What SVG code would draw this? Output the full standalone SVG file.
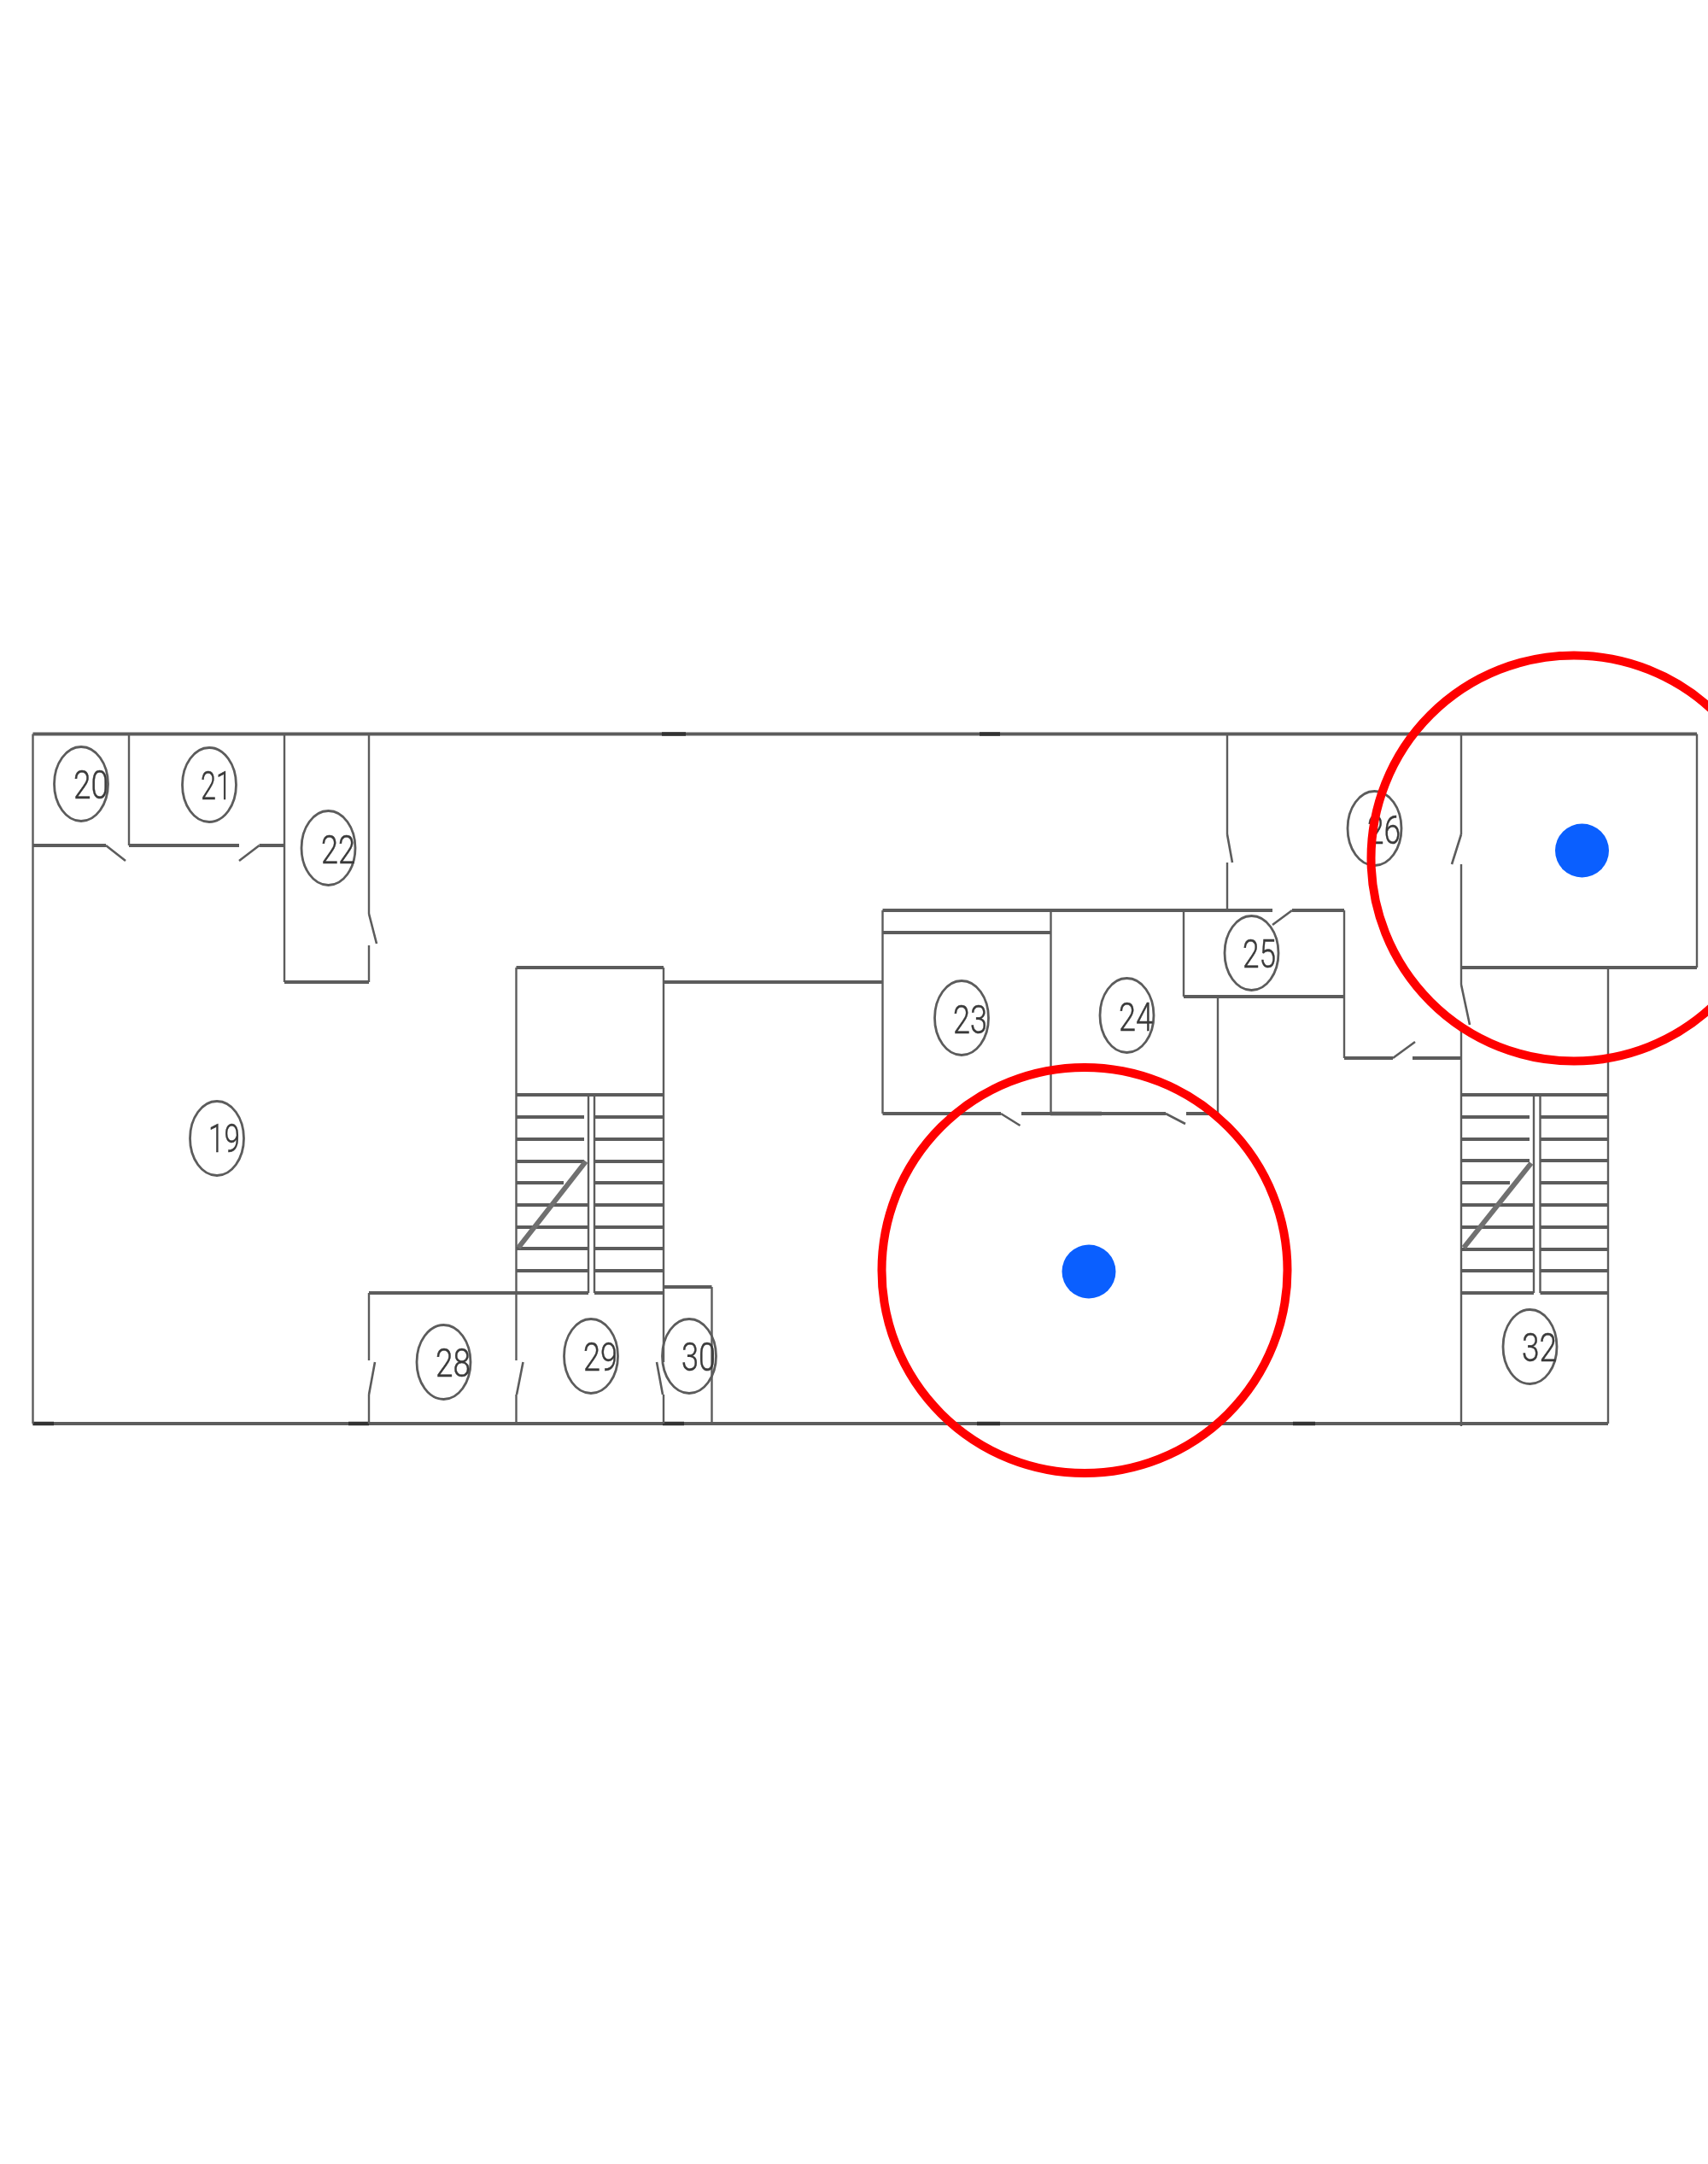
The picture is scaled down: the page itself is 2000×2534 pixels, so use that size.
<svg xmlns="http://www.w3.org/2000/svg" width="2000" height="2534" viewBox="0 0 2000 2534">
<style>
.h{stroke:#5c5c5c;stroke-width:4;fill:none}
.v{stroke:#5c5c5c;stroke-width:2.4;fill:none}
.d{stroke:#5c5c5c;stroke-width:2.6;fill:none}
.k{stroke:#333;stroke-width:4.4;fill:none}
.s{stroke:#707070;stroke-width:6;fill:none}
.c{stroke:#5c5c5c;stroke-width:2.8;fill:none}
.t{font-family:Roboto,"Liberation Sans",sans-serif;font-weight:300;font-size:47px;fill:#3a3a3a;stroke:#3a3a3a;stroke-width:.5}
.r{stroke:#ff0000;stroke-width:10;fill:none}
.b{fill:#0a5fff}
</style>
<defs><filter id="soft" filterUnits="userSpaceOnUse" x="0" y="700" width="2000" height="1100"><feGaussianBlur stdDeviation="0.55"/></filter></defs>
<rect width="2000" height="2534" fill="#fff"/>
<g id="plan" filter="url(#soft)">
<g id="connectors">
<path class="h" d="M38.5 859.5H1987M38.5 1667H1883"/>
<path class="k" d="M775 859.5H803M1147 859.5H1171M38.5 1667H63M408 1667H432M776 1667H801M1144 1667H1171M1514 1667H1540M1230 1304H1290"/>
<path class="v" d="M38.5 859.5V1667M151 859.5V990M333 859.5V1150M432 859.5V1070M432 1107V1150M1987 859.5V1133M1437 859.5V977M1437 1010V1066M1711 859.5V977M1711 1012V1153M1711 1198V1670M1883 1133V1667M604.5 1133V1593M604.5 1633V1667M432 1514V1593M432 1633V1667M777 1133V1595M777 1633V1667M833.5 1507V1667M1033.5 1066V1304M1230.5 1066V1304M1386 1066V1167M1574 1066V1239M1426 1167V1304M689 1282V1514M696 1282V1514M1796 1282V1514M1803.5 1282V1514"/>
<path class="h" d="M38.5 990H124M151 990H280M303.6 990H333M333 1150H432M604.5 1133H777M776 1150H1033.5M1033.5 1066H1490M1513 1066H1574M1033.5 1092H1230.5M1386 1167H1574M1574 1239H1631M1654 1239H1711M1711 1133H1987M1033.5 1304H1172M1196 1304H1365M1389 1304H1426M432 1514H689M696 1514H777M777 1507H833.5"/>
<path class="d" d="M124 990L147 1008M303.6 990L280 1008M432 1070L441 1105M1437 977L1443 1010M1513 1066L1490 1083M1711 977L1700 1012M1711 1153L1721 1200M1631 1239L1657 1220M1172 1304L1194.5 1318M1365 1304L1388 1316M439 1595L432 1633M612.5 1595L605 1633M769 1595L776 1633"/>
<path class="h" d="M604.5 1282H777M604.5 1308H684M696 1308H777M604.5 1334H684M696 1334H777M604.5 1360H684M696 1360H777M604.5 1385H660M696 1385H777M604.5 1411H689M696 1411H777M604.5 1437H689M696 1437H777M604.5 1462H689M696 1462H777M604.5 1488H689M696 1488H777"/>
<path class="s" d="M607 1461L686 1360"/>
<path class="h" d="M1711 1282H1883M1711 1308H1791M1803.5 1308H1883M1711 1334H1791M1803.5 1334H1883M1711 1359H1791M1803.5 1359H1883M1711 1385H1768M1803.5 1385H1883M1711 1411H1796M1803.5 1411H1883M1711 1437H1796M1803.5 1437H1883M1711 1463H1796M1803.5 1463H1883M1711 1488H1796M1803.5 1488H1883M1711 1514H1796M1803.5 1514H1883"/>
<path class="s" d="M1714 1461L1793 1362"/>
</g>
<g id="n19"><ellipse class="c" cx="254" cy="1333" rx="31.5" ry="43.5"/><text class="t" x="244" y="1349" textLength="37" lengthAdjust="spacingAndGlyphs">19</text></g>
<g id="n20"><ellipse class="c" cx="95" cy="918" rx="31.5" ry="43.5"/><text class="t" x="86" y="935" textLength="41" lengthAdjust="spacingAndGlyphs">20</text></g>
<g id="n21"><ellipse class="c" cx="245" cy="919" rx="31.5" ry="43.5"/><text class="t" x="235" y="936" textLength="36" lengthAdjust="spacingAndGlyphs">21</text></g>
<g id="n22"><ellipse class="c" cx="384.5" cy="993" rx="31.5" ry="43.5"/><text class="t" x="376" y="1011" textLength="40" lengthAdjust="spacingAndGlyphs">22</text></g>
<g id="n23"><ellipse class="c" cx="1126" cy="1192" rx="31.5" ry="43.5"/><text class="t" x="1116" y="1210" textLength="40" lengthAdjust="spacingAndGlyphs">23</text></g>
<g id="n24"><ellipse class="c" cx="1319.5" cy="1189" rx="31.5" ry="43.5"/><text class="t" x="1310" y="1207" textLength="40" lengthAdjust="spacingAndGlyphs">24</text></g>
<g id="n25"><ellipse class="c" cx="1465.5" cy="1116" rx="31.5" ry="43.5"/><text class="t" x="1455" y="1133" textLength="39" lengthAdjust="spacingAndGlyphs">25</text></g>
<g id="n26"><ellipse class="c" cx="1609.5" cy="970" rx="31.5" ry="43.5"/><text class="t" x="1601" y="988" textLength="39" lengthAdjust="spacingAndGlyphs">26</text></g>
<g id="n28"><ellipse class="c" cx="519.5" cy="1595" rx="31.5" ry="43.5"/><text class="t" x="510" y="1612" textLength="41" lengthAdjust="spacingAndGlyphs">28</text></g>
<g id="n29"><ellipse class="c" cx="692" cy="1588" rx="31.5" ry="43.5"/><text class="t" x="683" y="1605" textLength="40" lengthAdjust="spacingAndGlyphs">29</text></g>
<g id="n30"><ellipse class="c" cx="807" cy="1588" rx="31.5" ry="43.5"/><text class="t" x="798" y="1605" textLength="40" lengthAdjust="spacingAndGlyphs">30</text></g>
<g id="n32"><ellipse class="c" cx="1791.5" cy="1577" rx="31.5" ry="43.5"/><text class="t" x="1782" y="1594" textLength="41" lengthAdjust="spacingAndGlyphs">32</text></g>
</g>
<g id="marker-a"><circle class="r" cx="1270" cy="1487.5" r="237.5"/><circle class="b" cx="1275" cy="1489" r="31.5"/></g>
<g id="marker-b"><circle class="r" cx="1843" cy="1005" r="237.5"/><circle class="b" cx="1852.5" cy="996" r="31.5"/></g>
</svg>
